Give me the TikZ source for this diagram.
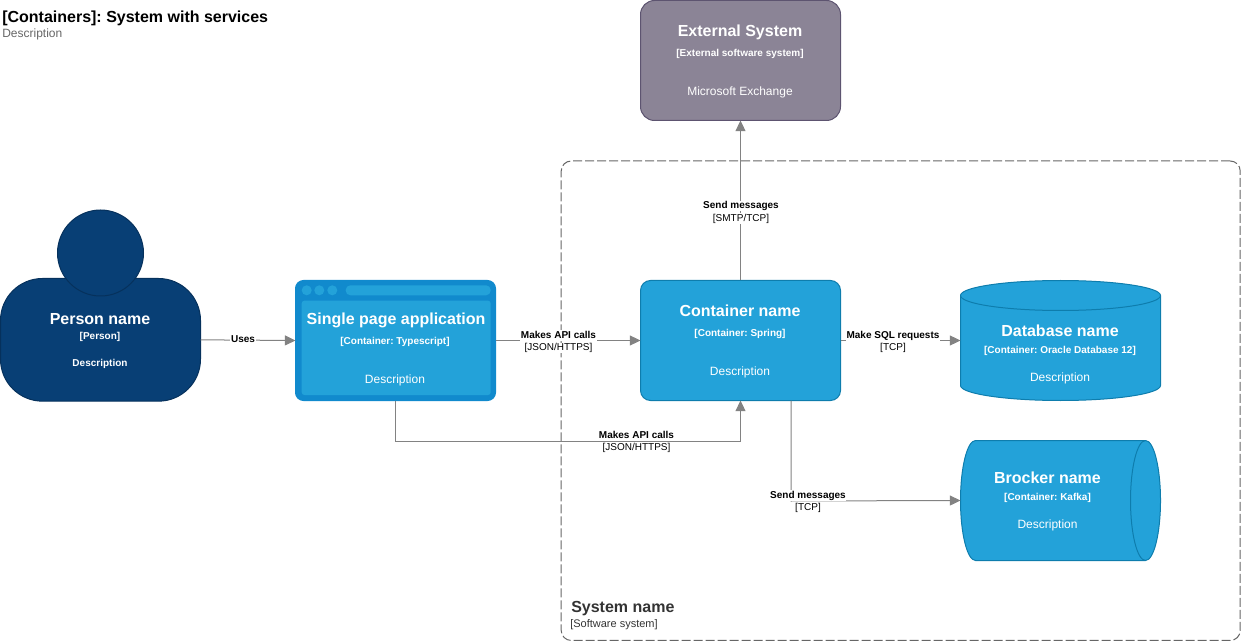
\documentclass[tikz,border=0pt]{standalone}
\usepackage{fontspec}
\setmainfont{Liberation Sans}
\usetikzlibrary{arrows.meta,calc}
\definecolor{persF}{HTML}{083F75}
\definecolor{persS}{HTML}{06315C}
\definecolor{contF}{HTML}{23A2D9}
\definecolor{contS}{HTML}{0E7DAD}
\definecolor{spaF}{HTML}{118ACD}
\definecolor{extF}{HTML}{8B8496}
\definecolor{extS}{HTML}{5D5470}
\definecolor{edgeC}{HTML}{828282}
\definecolor{grpC}{HTML}{666666}
\definecolor{grpT}{HTML}{333333}
\newcommand{\fs}[1]{\fontsize{#1pt}{#1pt}\selectfont\frenchspacing}
\tikzset{
  px/.style={x=0.75pt,y=-0.75pt},
  box/.style={draw=#1,line width=0.75pt,inner sep=0pt,outer sep=0pt},
  txt/.style={inner sep=0pt,yshift=-1.1pt},
  ttl/.style={txt,text=white,font=\fs{12}\bfseries,text height=8.6pt,text depth=2.6pt},
  sub/.style={txt,text=white,font=\fs{7.5}\bfseries,text height=5.7pt,text depth=1.6pt},
  dsc/.style={txt,text=white,font=\fs{9},text height=6.5pt,text depth=1.9pt},
  conn/.style={draw=edgeC,line width=0.75pt,-{Triangle[length=8pt,width=7.5pt,fill=edgeC]}},
  elb/.style={fill=white,text=black,font=\fs{7.5}\bfseries,inner sep=0.5pt,yshift=-0.4pt,text height=5.5pt,text depth=1.6pt},
  els/.style={fill=white,text=black,font=\fs{7.5},inner sep=0.5pt,yshift=-1.1pt},
}
\begin{document}
\begin{tikzpicture}[px]
\useasboundingbox (0,0) rectangle (1241,641);
% group
\node[draw=grpC,dash pattern=on 6.75pt off 2.25pt,line width=0.75pt,rounded corners=7.5pt,minimum width=509.25pt,minimum height=359.6pt,inner sep=0pt,anchor=north west] (group) at (560.7,160.5) {};
\node[txt,anchor=west,text=grpT,font=\fs{12}\bfseries] (groupT) at (571,607) {System name};
\node[txt,anchor=west,text=grpT,font=\fs{8.25}] (groupS) at (570,623) {[Software system]};
% title
\node[txt,anchor=west,text=black,font=\fs{12}\bfseries] (title) at (2,16.5) {[Containers]: System with services};
\node[txt,anchor=west,text=grpC,font=\fs{9}] (titleD) at (2,33) {Description};
% person
\node[box=persS,fill=persF,rounded corners=31.5pt,minimum width=150pt,minimum height=92pt,anchor=north west] (person) at (0.5,278.5) {};
\node[box=persS,fill=persF,circle,minimum size=64.5pt] (head) at (100.5,253) {};
\node[ttl] (personT) at (100,319) {Person name};
\node[sub] (personS) at (100,335) {[Person]};
\node[sub] (personD) at (100,362) {Description};
% spa
\node[box=spaF,fill=spaF,rounded corners=6pt,minimum width=150pt,minimum height=90pt,anchor=north west] (spa) at (295.5,280.5) {};
\fill[contF] (306.7,290.3) circle[radius=5];
\fill[contF] (319.3,290.3) circle[radius=5];
\fill[contF] (332.3,290.3) circle[radius=5];
\fill[contF,rounded corners=3.5pt] (345.7,285.3) rectangle (490.7,295.3);
\fill[contF,rounded corners=2pt] (301.7,300.7) rectangle (490.7,395);
\node[ttl] (spaT) at (396,319) {Single page application};
\node[sub] (spaS) at (395,340) {[Container: Typescript]};
\node[dsc] (spaD) at (395,378.5) {Description};
% container
\node[box=contS,fill=contF,rounded corners=7.5pt,minimum width=150pt,minimum height=90pt,anchor=north west] (cont) at (640.5,280.5) {};
\node[ttl] (contT) at (740,311) {Container name};
\node[sub] (contS) at (740,332) {[Container: Spring]};
\node[dsc] (contD) at (740,370.5) {Description};
% external
\node[box=extS,fill=extF,rounded corners=10.5pt,minimum width=150pt,minimum height=90pt,anchor=north west] (ext) at (640.5,0.5) {};
\node[ttl] (extT) at (740,31) {External System};
\node[sub] (extS) at (740,52) {[External software system]};
\node[dsc] (extD) at (740,90.5) {Microsoft Exchange};
% database
\node[minimum width=150pt,minimum height=90pt,inner sep=0pt,outer sep=0pt,anchor=north west] (db) at (960.5,280.5) {};
\path[box=contS,fill=contF] (960.5,295.5)
  .. controls (960.5,287.2) and (1005.5,280.5) .. (1060.5,280.5)
  .. controls (1115.5,280.5) and (1160.5,287.2) .. (1160.5,295.5)
  -- (1160.5,385.5)
  .. controls (1160.5,393.8) and (1115.5,400.5) .. (1060.5,400.5)
  .. controls (1005.5,400.5) and (960.5,393.8) .. (960.5,385.5) -- cycle;
\draw[contS,line width=0.75pt] (960.5,295.5)
  .. controls (960.5,303.8) and (1005.5,310.5) .. (1060.5,310.5)
  .. controls (1115.5,310.5) and (1160.5,303.8) .. (1160.5,295.5);
\node[ttl] (dbT) at (1060,331) {Database name};
\node[sub] (dbS) at (1060,349) {[Container: Oracle Database 12]};
\node[dsc] (dbD) at (1060,376.5) {Description};
% broker
\node[minimum width=150pt,minimum height=90pt,inner sep=0pt,outer sep=0pt,anchor=north west] (brk) at (960.5,440.5) {};
\path[box=contS,fill=contF] (975.5,440.5) -- (1145.5,440.5)
  .. controls (1153.8,440.5) and (1160.5,467.4) .. (1160.5,500.5)
  .. controls (1160.5,533.6) and (1153.8,560.5) .. (1145.5,560.5)
  -- (975.5,560.5)
  .. controls (967.2,560.5) and (960.5,533.6) .. (960.5,500.5)
  .. controls (960.5,467.4) and (967.2,440.5) .. (975.5,440.5) -- cycle;
\draw[contS,line width=0.75pt] (1145.5,440.5)
  .. controls (1137.2,440.5) and (1130.5,467.4) .. (1130.5,500.5)
  .. controls (1130.5,533.6) and (1137.2,560.5) .. (1145.5,560.5);
\node[ttl] (brkT) at (1047.5,478) {Brocker name};
\node[sub] (brkS) at (1047.5,496) {[Container: Kafka]};
\node[dsc] (brkD) at (1047.5,523.5) {Description};
% connectors
\coordinate (a1) at (spa.south |- 0,441);
\coordinate (a2) at (cont.south |- 0,441);
\coordinate (b1) at (791,501);
\draw[conn] (person.east) -- (spa.west);
\draw[conn] (spa.east) -- (cont.west);
\draw[conn] (spa.south) -- (a1) -- (a2) -- (cont.south);
\draw[conn] (cont.north) -- (ext.south);
\draw[conn] (cont.east) -- (db.west);
\draw[conn] (cont.south -| b1) -- (b1) -- (brk.west);
% edge labels
\node[elb] (l1) at (243,339.5) {Uses};
\node[elb] (l2) at (558.5,335) {Makes API calls};
\node[els] (l2s) at (558.5,346.5) {[JSON/HTTPS]};
\node[elb] (l3) at (636.5,435) {Makes API calls};
\node[els] (l3s) at (636.5,446.5) {[JSON/HTTPS]};
\node[elb] (l4) at (741,205.5) {Send messages};
\node[els] (l4s) at (741,217) {[SMTP/TCP]};
\node[elb] (l5) at (893,335) {Make SQL requests};
\node[els] (l5s) at (893,346.5) {[TCP]};
\node[elb] (l6) at (808,495) {Send messages};
\node[els] (l6s) at (808,506.5) {[TCP]};
\end{tikzpicture}
\end{document}
